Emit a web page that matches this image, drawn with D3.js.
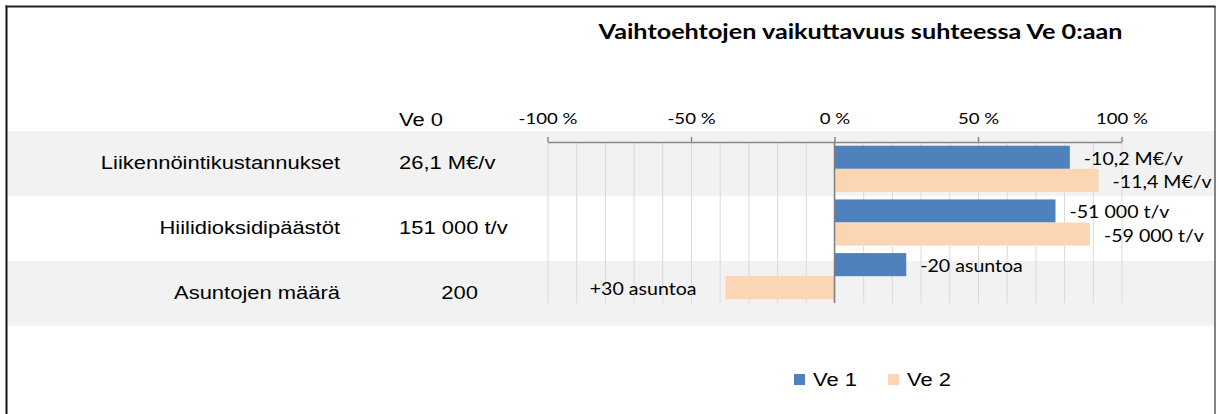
<!DOCTYPE html>
<html>
<head>
<meta charset="utf-8">
<title>Vaihtoehtojen vaikuttavuus</title>
<script src="https://d3js.org/d3.v7.min.js"></script>
<style>
  body { margin: 0; background: #fff; }
  svg { display: block; }
</style>
</head>
<body>
<div id="chart"></div>
<script>
// data
var categories = ["Liikennöintikustannukset", "Hiilidioksidipäästöt", "Asuntojen määrä"];
var baseValues = ["26,1 M€/v", "151 000 t/v", "200"];
var seriesNames = ["Ve 1", "Ve 2"];
var ve1 = [82, 77, 25];
var ve2 = [92, 89, -38];
var ve1Labels = ["-10,2 M€/v", "-51 000 t/v", "-20 asuntoa"];
var ve2Labels = ["-11,4 M€/v", "-59 000 t/v", "+30 asuntoa"];
var tickValues = [-100, -50, 0, 50, 100];
var colors = ["#4f81bd", "#fcd5b5"];

var W = 1219, H = 414;
var SX = 1.2; // the original picture is stretched sideways
var arial = "'Liberation Sans', Arial, sans-serif";
var calibri = "Lato, 'Open Sans', sans-serif";

var svg = d3.select("#chart").append("svg")
    .attr("width", W)
    .attr("height", H);

// helper: text placed with translate, stretched horizontally
function txt(x, y, s, anchor, font, size, weight) {
  return svg.append("text")
    .attr("transform", "translate(" + x + "," + y + ") scale(" + SX + ",1)")
    .attr("text-anchor", anchor)
    .style("font-family", font)
    .style("font-size", size + "px")
    .style("font-weight", weight || "normal")
    .style("fill", "#000")
    .text(s);
}

// table rows behind the chart
var rowY = d3.scaleBand().domain(categories).range([131, 325.7]);
svg.selectAll(".row")
  .data(categories)
  .enter().append("rect")
    .attr("x", 8)
    .attr("y", function(d) { return rowY(d); })
    .attr("width", 1207)
    .attr("height", rowY.bandwidth())
    .attr("fill", function(d, i) { return i % 2 == 0 ? "#f2f2f2" : "#ffffff"; });

// frame
svg.append("line").attr("x1", 6.5).attr("x2", 6.5).attr("y1", 5.5).attr("y2", H)
  .attr("stroke", "#111").attr("stroke-width", 2);
svg.append("line").attr("x1", 5.5).attr("x2", 1215.5).attr("y1", 6.5).attr("y2", 6.5)
  .attr("stroke", "#222").attr("stroke-width", 2);
svg.append("line").attr("x1", 1215).attr("x2", 1215).attr("y1", 6).attr("y2", H)
  .attr("stroke", "#333").attr("stroke-width", 1.2);

// title
txt(860.5, 39, "Vaihtoehtojen vaikuttavuus suhteessa Ve 0:aan", "middle", calibri, 21, "bold");

// table texts
txt(399, 126, "Ve 0", "start", arial, 18.3);
categories.forEach(function(c, i) {
  var cy = rowY(c) + rowY.bandwidth() / 2 + 5.5;
  txt(340, cy, c, "end", arial, 18.3);
  var v = baseValues[i];
  var isNum = !isNaN(+v.replace(/\s/g, "").replace(",", "."));
  if (isNum) txt(478, cy, v, "end", arial, 18.3);
  else txt(399, cy, v, "start", arial, 18.3);
});

// scales for the bars
var x = d3.scaleLinear().domain([-100, 100]).range([547.5, 1121.5]);
var y = d3.scaleBand().domain(categories).range([142, 303])
    .paddingInner(0.14).paddingOuter(0.07);
var ySub = d3.scaleBand().domain(seriesNames).range([0, y.bandwidth()]);

// gridlines
var grid = svg.append("g")
    .attr("transform", "translate(0,142)")
    .call(d3.axisBottom(x).tickValues(d3.range(-100, 101, 10)).tickSize(161).tickFormat(""));
grid.select(".domain").remove();
grid.selectAll("line").attr("stroke", "#d9d9d9").attr("stroke-width", 1);

// axis on top
var ax = svg.append("g")
    .attr("transform", "translate(0,142)")
    .call(d3.axisTop(x).tickValues(tickValues).tickSize(5).tickSizeOuter(0)
      .tickFormat(function(d) { return d + " %"; }));
ax.select(".domain").attr("stroke", "#898989").attr("stroke-width", 1.5);
ax.selectAll("line").attr("stroke", "#898989").attr("stroke-width", 1.5);
ax.selectAll("text")
    .attr("y", 0).attr("dy", null)
    .attr("transform", "translate(0,-18.5) scale(" + SX + ",1)")
    .style("font-family", calibri)
    .style("font-size", "15.5px")
    .style("fill", "#000");

// bars
var series = [ve1, ve2];
var labels = [ve1Labels, ve2Labels];
series.forEach(function(vals, s) {
  svg.selectAll(".bar" + s)
    .data(vals)
    .enter().append("rect")
      .attr("x", function(d) { return x(Math.min(0, d)); })
      .attr("y", function(d, i) { return y(categories[i]) + ySub(seriesNames[s]); })
      .attr("width", function(d) { return Math.abs(x(d) - x(0)); })
      .attr("height", ySub.bandwidth())
      .attr("fill", colors[s]);
});

// zero line
svg.append("line")
  .attr("x1", x(0)).attr("x2", x(0)).attr("y1", 142).attr("y2", 303)
  .attr("stroke", "#7f7f7f").attr("stroke-width", 1.5);

// data labels
series.forEach(function(vals, s) {
  vals.forEach(function(d, i) {
    var cy = y(categories[i]) + ySub(seriesNames[s]) + ySub.bandwidth() / 2 + 7.5;
    if (d >= 0) txt(x(d) + 14, cy, labels[s][i], "start", calibri, 16.3);
    else txt(x(d) - 29, cy, labels[s][i], "end", calibri, 16.3);
  });
});

// legend
seriesNames.forEach(function(n, i) {
  var lx = 794 + i * 94;
  svg.append("rect").attr("x", lx).attr("y", 374).attr("width", 11).attr("height", 11)
    .attr("fill", colors[i]);
  txt(lx + 19, 386, n, "start", arial, 18.3);
});
</script>
</body>
</html>
